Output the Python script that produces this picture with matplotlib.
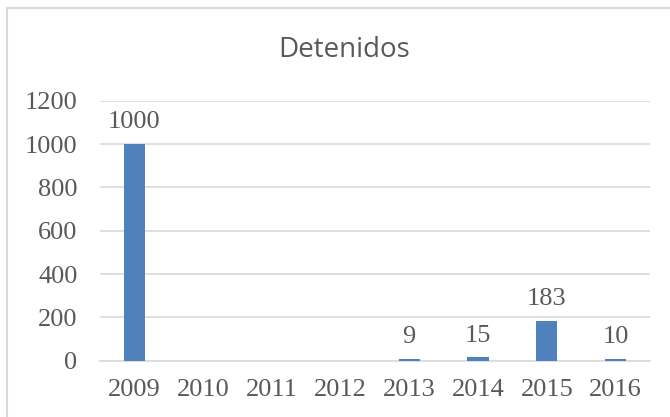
import matplotlib
matplotlib.use('Agg')
import matplotlib.pyplot as plt
from matplotlib.patches import Rectangle

# datos
anios = ['2009', '2010', '2011', '2012', '2013', '2014', '2015', '2016']
detenidos = [1000, 0, 0, 0, 9, 15, 183, 10]
ticks_y = [0, 200, 400, 600, 800, 1000, 1200]

color_barra = '#4F81BD'
color_texto = '#595959'
color_grid = '#D9D9D9'
fuente_num = 'Liberation Serif'

fig = plt.figure(figsize=(6.7, 4.17), dpi=100)
ax = fig.add_axes([0.149, 0.135, 0.821, 0.6235])

x = list(range(len(anios)))
ax.bar(x, detenidos, width=0.31, color=color_barra, zorder=3)

# etiquetas de datos (solo los valores distintos de cero)
for xi, v in zip(x, detenidos):
    if v > 0:
        ax.text(xi, v + 50, str(v), ha='center', va='bottom',
                fontsize=19, family=fuente_num, color=color_texto)

ax.set_xlim(-0.5, len(anios) - 0.5)
ax.set_ylim(0, 1200)
ax.set_yticks(ticks_y)
ax.set_yticklabels([str(t) for t in ticks_y], family=fuente_num, fontsize=19, color=color_texto)
ax.set_xticks(x)
ax.set_xticklabels(anios, family=fuente_num, fontsize=19, color=color_texto)
ax.tick_params(axis='both', length=0)
ax.tick_params(axis='x', pad=13)
ax.tick_params(axis='y', pad=16)

ax.grid(axis='y', color=color_grid, linewidth=1.2, zorder=0)
for s in ['top', 'right', 'left']:
    ax.spines[s].set_visible(False)
ax.spines['bottom'].set_color(color_grid)
ax.spines['bottom'].set_linewidth(1.2)

fig.text(0.513, 0.88, 'Detenidos', ha='center', va='center',
         fontsize=20, family='Open Sans', color=color_texto)

# borde del grafico (recortado a derecha y abajo)
fig.patches.append(Rectangle((0.0105, -0.1), 1.2, 1.081, transform=fig.transFigure,
                             fill=False, edgecolor=color_grid, linewidth=1.5))

fig.savefig('out.png', dpi=100)
